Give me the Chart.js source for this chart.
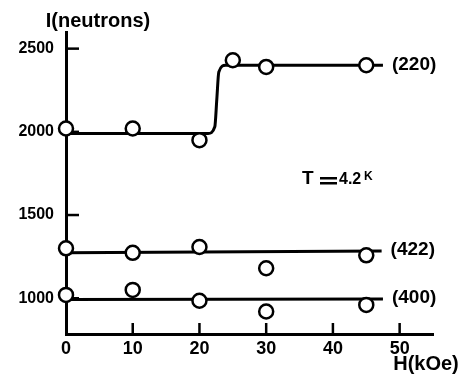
<!DOCTYPE html>
<html>
<head>
<meta charset="utf-8">
<script src="https://cdn.jsdelivr.net/npm/chart.js@4.4.0/dist/chart.umd.min.js"></script>
<style>
	html, body { margin: 0; padding: 0; background: #fff; }
	#wrap { width: 469px; height: 375px; }
</style>
</head>
<body>
<div id="wrap"><canvas id="neutronChart" width="469" height="375"></canvas></div>
<script>
(() => {
	'use strict'

	const fieldTicks = [0, 10, 20, 30, 40, 50];
	const intensityTicks = [1000, 1500, 2000, 2500];

	// measured points, H in kOe
	const field220 = [0, 10, 20, 25, 30, 45];
	const counts220 = [2020, 2020, 1950, 2430, 2390, 2400];
	const field422 = [0, 10, 20, 30, 45];
	const counts422 = [1300, 1273, 1308, 1180, 1258];
	const field400 = [0, 10, 20, 30, 45];
	const counts400 = [1020, 1050, 985, 920, 960];

	// hand-drawn guide curves
	const fitField220 = [0, 21.3, 22.3, 22.6, 22.9, 23.9, 47.5];
	const fitCounts220 = [1990, 1990, 2030, 2195, 2360, 2400, 2400];
	const fitField422 = [0, 47.3];
	const fitCounts422 = [1274, 1284];
	const fitField400 = [0, 47.5];
	const fitCounts400 = [993, 995];

	const reflections = ['(220)', '(422)', '(400)'];

	const fontFamily = "'Liberation Sans', Arial, sans-serif";
	const toXY = (xs, ys) => xs.map((x, i) => ({ x, y: ys[i] }));

	const pointStyle = {
		showLine: false,
		pointRadius: 7,
		pointHoverRadius: 7,
		pointBackgroundColor: '#fff',
		pointBorderColor: '#000',
		pointBorderWidth: 2.5,
		clip: false,
		order: 1
	};
	const lineStyle = {
		showLine: true,
		pointRadius: 0,
		borderColor: '#000',
		borderWidth: 3,
		cubicInterpolationMode: 'monotone',
		clip: false,
		order: 2
	};

	const innerTicks = {
		id: 'innerTicks',
		beforeDatasetsDraw(chart) {
			const { ctx, scales: { x, y } } = chart;
			ctx.save();
			ctx.strokeStyle = '#000';
			ctx.lineWidth = 2.5;
			fieldTicks.slice(1).forEach((v) => {
				const px = x.getPixelForValue(v);
				ctx.beginPath();
				ctx.moveTo(px, y.bottom);
				ctx.lineTo(px, y.bottom - 11);
				ctx.stroke();
			});
			intensityTicks.forEach((v) => {
				const py = y.getPixelForValue(v);
				ctx.beginPath();
				ctx.moveTo(x.left, py);
				ctx.lineTo(x.left + 13, py);
				ctx.stroke();
			});
			ctx.restore();
		}
	};

	const annotations = {
		id: 'annotations',
		afterDraw(chart) {
			const { ctx, scales: { x, y } } = chart;
			const lineEnds = [
				[fitField220, fitCounts220],
				[fitField422, fitCounts422],
				[fitField400, fitCounts400]
			];
			ctx.save();
			ctx.fillStyle = '#000';
			ctx.textBaseline = 'middle';

			ctx.font = `bold 19px ${fontFamily}`;
			lineEnds.forEach(([xs, ys], i) => {
				const px = x.getPixelForValue(xs[xs.length - 1]) + 9;
				const py = y.getPixelForValue(ys[ys.length - 1]) - 1;
				ctx.fillText(reflections[i], px, py);
			});

			// axis titles
			ctx.font = `bold 20px ${fontFamily}`;
			ctx.textAlign = 'center';
			ctx.fillText('I(neutrons)', 98, 21);
			ctx.fillText('H(kOe)', 426, 364);

			// temperature note
			ctx.textAlign = 'left';
			ctx.textBaseline = 'alphabetic';
			ctx.font = `bold 19px ${fontFamily}`;
			ctx.fillText('T', 302, 184);
			ctx.fillRect(320, 177, 17, 2.5);
			ctx.fillRect(320, 182, 17, 2.5);
			ctx.font = `bold 16px ${fontFamily}`;
			ctx.fillText('4.2', 339, 184);
			ctx.font = `bold 12px ${fontFamily}`;
			ctx.fillText('K', 364, 180);
			ctx.restore();
		}
	};

	new Chart(document.getElementById('neutronChart'), {
		type: 'scatter',
		data: {
			datasets: [
				{ label: '(220)', data: toXY(field220, counts220), ...pointStyle },
				{ label: '(422)', data: toXY(field422, counts422), ...pointStyle },
				{ label: '(400)', data: toXY(field400, counts400), ...pointStyle },
				{ label: '(220) fit', data: toXY(fitField220, fitCounts220), ...lineStyle },
				{ label: '(422) fit', data: toXY(fitField422, fitCounts422), ...lineStyle },
				{ label: '(400) fit', data: toXY(fitField400, fitCounts400), ...lineStyle }
			]
		},
		options: {
			responsive: false,
			devicePixelRatio: 1,
			animation: false,
			layout: { padding: { top: 32, right: 36, left: 0, bottom: 0 } },
			plugins: {
				legend: { display: false },
				tooltip: { enabled: false }
			},
			scales: {
				x: {
					type: 'linear',
					min: 0,
					max: 55,
					grid: { display: false, drawTicks: false },
					border: { display: true, width: 3, color: '#000' },
					ticks: {
						color: '#000',
						padding: 4,
						font: { family: fontFamily, size: 18, weight: 'bold' }
					},
					afterBuildTicks: (scale) => {
						scale.ticks = fieldTicks.map((value) => ({ value }));
					},
					afterFit: (scale) => {
						scale.height = 41;
					}
				},
				y: {
					type: 'linear',
					min: 785,
					max: 2600,
					grid: { display: false, drawTicks: false },
					border: { display: true, width: 3, color: '#000' },
					ticks: {
						color: '#000',
						padding: 12,
						font: { family: fontFamily, size: 16, weight: 'bold' },
						callback: (value) => String(value)
					},
					afterBuildTicks: (scale) => {
						scale.ticks = intensityTicks.map((value) => ({ value }));
					},
					afterFit: (scale) => {
						scale.width = 66;
					}
				}
			}
		},
		plugins: [innerTicks, annotations]
	});
})()
</script>
</body>
</html>
